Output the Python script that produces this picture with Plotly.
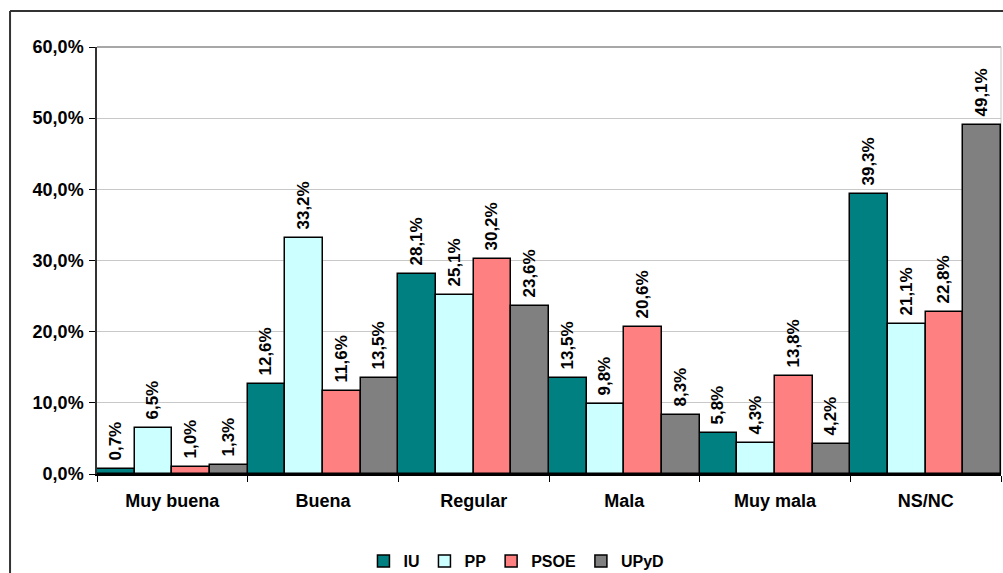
import plotly.graph_objects as go

categories = ["Muy buena", "Buena", "Regular", "Mala", "Muy mala", "NS/NC"]
iu = [0.7, 12.6, 28.1, 13.5, 5.8, 39.3]
pp = [6.5, 33.2, 25.1, 9.8, 4.3, 21.1]
psoe = [1.0, 11.6, 30.2, 20.6, 13.8, 22.8]
upyd = [1.3, 13.5, 23.6, 8.3, 4.2, 49.1]
series_names = ["IU", "PP", "PSOE", "UPyD"]
series_colors = ["#008080", "#CCFFFF", "#FF8080", "#808080"]
y_ticks = [0, 10, 20, 30, 40, 50, 60]
y_ticktext = [f"{v:.1f}%".replace(".", ",") for v in y_ticks]

FONT = "Liberation Sans, Arial, sans-serif"

fig = go.Figure()
for name, vals, col in zip(series_names, [iu, pp, psoe, upyd], series_colors):
    fig.add_trace(go.Bar(
        x=categories, y=vals, name=name,
        marker=dict(color=col, line=dict(color="black", width=1.5)),
        texttemplate="\u00a0<b>%{y:.1f}%</b>", textposition="outside",
        textangle=-90, constraintext="none",
        textfont=dict(family=FONT, size=17, color="black"),
        cliponaxis=False,
    ))

border = dict(color="#333333", width=2)
fig.update_layout(
    width=1003, height=573,
    barmode="group", bargap=0, bargroupgap=0,
    separators=",.",
    paper_bgcolor="white", plot_bgcolor="white",
    margin=dict(l=97, r=2, t=47, b=99, autoexpand=False),
    font=dict(family=FONT, size=16, color="black"),
    showlegend=True,
    legend=dict(orientation="h", x=0.464, xanchor="center", y=-0.204, yanchor="middle",
                font=dict(family=FONT, size=16, color="black", weight="bold"),
                itemwidth=30, tracegroupgap=0),
    uniformtext=dict(mode=False),
    shapes=[
        dict(type="line", xref="paper", yref="paper", x0=-0.0962, x1=1.02,
             y0=1.0843, y1=1.0843, line=border, layer="above"),
        dict(type="line", xref="paper", yref="paper", x0=-0.0962, x1=-0.0962,
             y0=-0.35, y1=1.0843, line=border, layer="above"),
        dict(type="line", xref="paper", yref="paper", x0=0, x1=1,
             y0=1, y1=1, line=dict(color="#8a8a8a", width=1.5), layer="below"),
        dict(type="line", xref="paper", yref="paper", x0=1, x1=1,
             y0=0, y1=1, line=dict(color="#c8c8c8", width=1), layer="below"),
    ],
)
fig.update_xaxes(
    showline=True, linecolor="black", linewidth=1.5,
    ticks="outside", tickson="boundaries", ticklen=6, tickcolor="black",
    tickfont=dict(family=FONT, size=18, color="black", weight="bold"),
    ticklabelstandoff=10, automargin=False,
    showgrid=False, mirror=False,
)
fig.update_yaxes(
    range=[0, 60], tickvals=y_ticks, ticktext=y_ticktext,
    showline=True, linecolor="#333333", linewidth=1.5,
    ticks="outside", ticklen=6, tickcolor="black",
    tickfont=dict(family=FONT, size=18, color="black", weight="bold"),
    ticklabelstandoff=2, automargin=False,
    showgrid=True, gridcolor="#c8c8c8", gridwidth=1, zeroline=False,
)
fig.write_html("out.html", config={"displayModeBar": False},
               post_script="document.body.style.margin='0';")
